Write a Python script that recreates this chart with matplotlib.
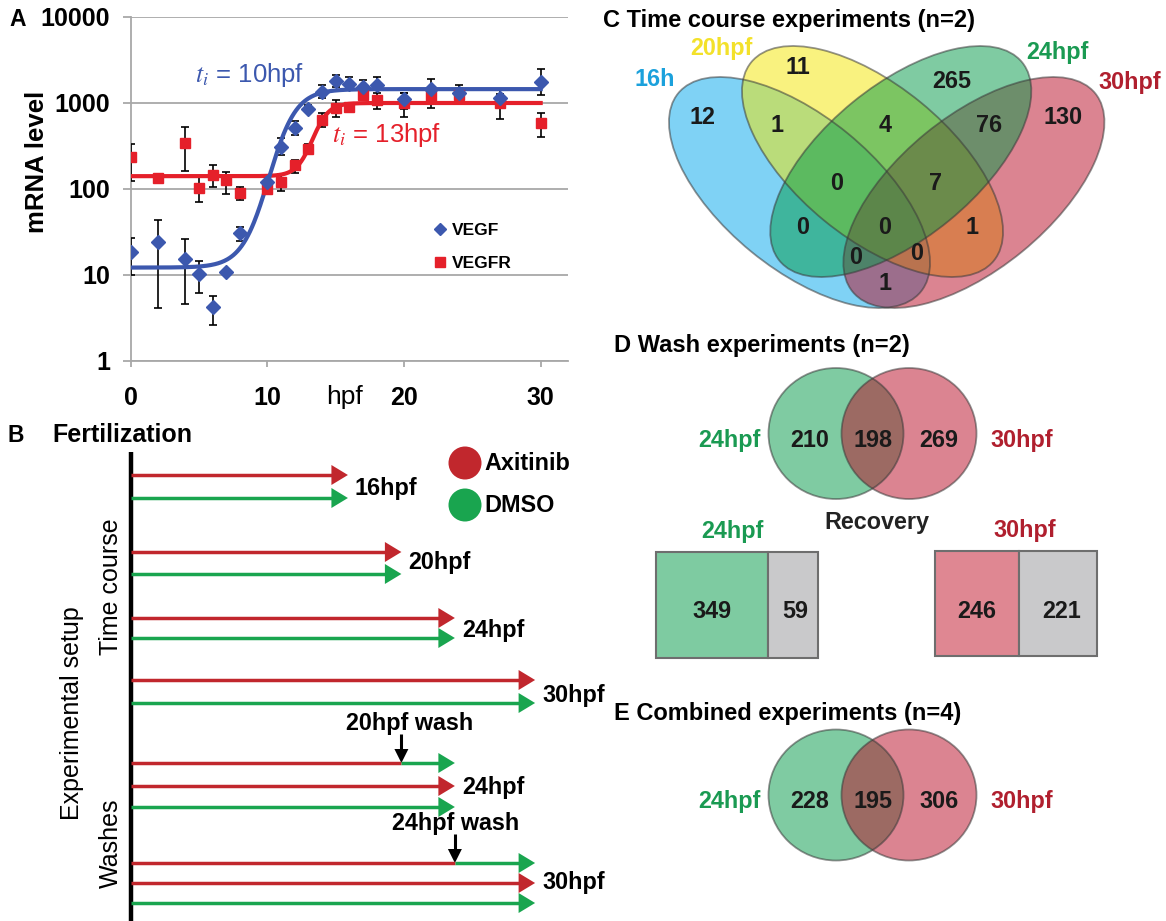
import matplotlib
matplotlib.use('Agg')
import matplotlib.pyplot as plt
import numpy as np
from matplotlib.patches import Ellipse, Rectangle, Circle, Polygon

plt.rcParams['font.family'] = ['Liberation Sans', 'DejaVu Sans']
plt.rcParams['mathtext.fontset'] = 'stix'

# ---------------- Panel A data ----------------
hpf = [0, 2, 4, 5, 6, 7, 8, 10, 11, 12, 13, 14, 15, 16, 17, 18, 20, 22, 24, 27, 30]
vegf = [18.7, 24, 15.3, 10.4, 4.2, 10.7, 30.5, 120, 310, 510, 850, 1350, 1800, 1650, 1550, 1600, 1100, 1450, 1300, 1150, 1750]
vegf_hi = [26.7, 44, 26, 14.5, 5.7, 11, 36.5, 140, 390, 620, 950, 1600, 2100, 2000, 1850, 2000, 1300, 1900, 1600, 1450, 2500]
vegf_lo = [10, 4.1, 4.6, 6.2, 2.6, 10.4, 25, 105, 250, 420, 780, 1150, 1550, 1400, 1300, 1300, 850, 1100, 1050, 900, 1250]
vegfr = [234, 135, 340, 103, 147, 126, 90, 100, 122, 188, 292, 633, 870, 890, 1230, 1090, 1000, 1210, 1230, 1000, 580]
vegfr_hi = [335, 150, 520, 138, 188, 158, 105, 108, 150, 215, 330, 760, 1070, 960, 1350, 1420, 1320, 1520, 1500, 1280, 770]
vegfr_lo = [125, 117, 161, 70, 105, 88, 75, 92, 95, 152, 255, 520, 680, 830, 1150, 850, 680, 870, 1000, 660, 400]
# logistic fits (in log space): low plateau, high plateau, inflection time, width
vegf_fit = dict(low=12.2, high=1450, ti=10.1, width=1.0)
vegfr_fit = dict(low=141, high=1000, ti=13.3, width=0.6)
x_ticks = [0, 10, 20, 30]
y_ticks = [1, 10, 100, 1000, 10000]
y_ticklabels = ['1', '10', '100', '1000', '10000']

# ---------------- Panel B data ----------------
timecourse_hpf = [16, 20, 24, 30]
wash_hpf = [20, 24]
wash_end_hpf = [24, 30]

# ---------------- Panel C-E data ----------------
venn_c_sets = ['16h', '20hpf', '24hpf', '30hpf']
venn_c_counts = [12, 11, 265, 130, 1, 4, 76, 0, 7, 0, 0, 1, 0, 0, 1]
wash_sets = ['24hpf', '30hpf']
wash_counts = [210, 198, 269]
recovery_24 = [349, 59]
recovery_30 = [246, 221]
combined_counts = [228, 195, 306]

BLUE = '#3c58ae'
RED = '#e5202a'
AR_RED = '#c1272d'
AR_GREEN = '#19a54f'
LBL_GREEN = '#1a9a52'
LBL_RED = '#b01f2e'

W, H = 1166, 921
fig = plt.figure(figsize=(W / 100, H / 100), dpi=100)

# ================= Panel A =================
ax_l, ax_r, ax_t, ax_b = 130.7, 568, 17, 361
axA = fig.add_axes([ax_l / W, 1 - ax_b / H, (ax_r - ax_l) / W, (ax_b - ax_t) / H])
axA.set_yscale('log')
axA.set_ylim(1, 10000)
axA.set_xlim(0, 32)
axA.yaxis.grid(True, color='#a8a8a8', lw=1.3)
axA.set_axisbelow(True)
for s in ['top', 'right']:
    axA.spines[s].set_visible(False)
for s in ['left', 'bottom']:
    axA.spines[s].set_color('#a8a8a8')
    axA.spines[s].set_linewidth(1.3)
axA.set_xticks(x_ticks)
axA.set_xticklabels([str(v) for v in x_ticks], fontsize=18, fontweight='bold')
axA.set_yticks(y_ticks)
axA.set_yticklabels(y_ticklabels, fontsize=18, fontweight='bold')
axA.yaxis.set_minor_locator(matplotlib.ticker.NullLocator())
axA.tick_params(axis='x', length=4.5, width=1.3, color='#a8a8a8', pad=13.5)
axA.tick_params(axis='y', length=5.8, width=1.3, color='#a8a8a8', pad=9)

xs = np.linspace(0, 30, 400)
def logistic(x, p):
    lo, hi = np.log10(p['low']), np.log10(p['high'])
    return 10 ** (lo + (hi - lo) / (1 + np.exp(-(x - p['ti']) / p['width'])))

hpf_a = np.array(hpf)
for vals, hi, lo in [(vegf, vegf_hi, vegf_lo), (vegfr, vegfr_hi, vegfr_lo)]:
    v = np.array(vals); h = np.array(hi); l = np.array(lo)
    axA.errorbar(hpf_a, v, yerr=[v - l, h - v], fmt='none', ecolor='black',
                 elinewidth=1.2, capsize=2.6, capthick=1.2, zorder=3)
axA.plot(xs, logistic(xs, vegfr_fit), color=RED, lw=3.0, zorder=4)
axA.plot(xs, logistic(xs, vegf_fit), color=BLUE, lw=3.0, zorder=4)
axA.plot(hpf_a, vegfr, 's', color=RED, ms=7, mec=RED, zorder=5)
axA.plot(hpf_a, vegf, 'D', color=BLUE, ms=7, mec=BLUE, zorder=6)

# overlay for annotations and other panels
axo = fig.add_axes([0, 0, 1, 1])
axo.set_xlim(0, W)
axo.set_ylim(H, 0)
axo.axis('off')

def T(x, y, s, size=16, color='black', weight='bold', ha='center', va='center', **kw):
    axo.text(x, y, s, fontsize=size, color=color, fontweight=weight, ha=ha, va=va, **kw)

T(18, 19, 'A', 16.5)
T(37, 162, 'mRNA level', 18.5, rotation=90)
T(344, 397, 'hpf', 19, weight='normal')
T(195, 75, r'$t_i$ = 10hpf', 18.5, color=BLUE, weight='normal', ha='left')
T(332, 135, r'$t_i$ = 13hpf', 18.5, color=RED, weight='normal', ha='left')
axo.plot([440], [229], 'D', color=BLUE, ms=6.5)
T(452, 230, 'VEGF', 12.5, ha='left')
axo.plot([440], [262], 's', color=RED, ms=6.5)
T(452, 263, 'VEGFR', 12.5, ha='left')

# ================= Panel B =================
T(16, 435, 'B', 16.5)
T(52, 435, 'Fertilization', 18, ha='left')
axo.plot([131, 131], [452, 921], color='black', lw=3.2, solid_capstyle='butt')

def hx(h):
    return 134 + 13.37 * h

HEAD_L, HEAD_W = 16.5, 10
def arrow(y, x0, x1, color, head=True):
    xe = x1 - HEAD_L if head else x1
    axo.plot([x0, xe + 1], [y, y], color=color, lw=2.5, solid_capstyle='butt')
    if head:
        axo.add_patch(Polygon([[x1 - HEAD_L, y - HEAD_W], [x1, y], [x1 - HEAD_L, y + HEAD_W]],
                              closed=True, color=color, lw=0))

tc_rows = [(475, 498), (552, 574), (618, 638), (680, 703)]
tc_label_y = [488, 562, 630, 695]
for h, (yr, yg), ly in zip(timecourse_hpf, tc_rows, tc_label_y):
    arrow(yr, 131, hx(h), AR_RED)
    arrow(yg, 131, hx(h), AR_GREEN)
    T(hx(h) + 7, ly, f'{h}hpf', 16.8, ha='left')

wash_rows = [(763, 786, 807), (863, 883, 903)]
wash_text = [(410, 723), (456, 823)]
wash_label_y = [787, 882]
for hw, he, (y1, y2, y3), (tx, ty), ly in zip(wash_hpf, wash_end_hpf, wash_rows, wash_text, wash_label_y):
    xw = hx(hw)
    axo.plot([131, xw], [y1, y1], color=AR_RED, lw=2.5, solid_capstyle='butt')
    arrow(y1, xw, hx(he), AR_GREEN)
    arrow(y2, 131, hx(he), AR_RED)
    arrow(y3, 131, hx(he), AR_GREEN)
    T(hx(he) + 7, ly, f'{he}hpf', 16.8, ha='left')
    T(tx, ty, f'{hw}hpf wash', 16.8)
    axo.plot([xw, xw], [y1 - 29, y1 - 12], color='black', lw=2.2, solid_capstyle='butt')
    axo.add_patch(Polygon([[xw - 7, y1 - 14], [xw, y1], [xw + 7, y1 - 14]], closed=True, color='black', lw=0))

axo.add_patch(Circle((465, 463), 16.5, color=AR_RED, lw=0))
axo.add_patch(Circle((465, 505), 16.5, color=AR_GREEN, lw=0))
T(484, 463, 'Axitinib', 16.8, ha='left')
T(484, 505, 'DMSO', 16.8, ha='left')
T(111, 587, 'Time course', 18, weight='normal', rotation=90)
T(111, 843, 'Washes', 18, weight='normal', rotation=90)
T(72, 713, 'Experimental setup', 18, weight='normal', rotation=90)

# ================= Panel C =================
T(603, 20, 'C Time course experiments (n=2)', 17, ha='left')
ell_a, ell_b, ell_ang = 2 * 156.7, 2 * 76.3, 39.3
c_geo = [  # center, angle, colour (drawing order blue, yellow, red, green)
    ((799.5, 192.5), ell_ang, '#00a6ed'),
    ((872.5, 161.5), ell_ang, '#f5e700'),
    ((973.9, 192.5), -ell_ang, '#b90b25'),
    ((900.8, 161.5), -ell_ang, '#009947'),
]
for (cx, cy), ang, col in c_geo:
    axo.add_patch(Ellipse((cx, cy), ell_a, ell_b, angle=ang, facecolor=col, alpha=0.5, lw=0))
for (cx, cy), ang, col in c_geo:
    axo.add_patch(Ellipse((cx, cy), ell_a, ell_b, angle=ang, facecolor='none',
                          edgecolor='#3a3a3a', alpha=0.55, lw=1.3))
c_lbl_pos = [(655, 80), (721, 48), (1057, 52), (1130, 82)]
c_lbl_col = ['#1ba1dc', '#f3e12a', LBL_GREEN, LBL_RED]
for s, (x, y), c in zip(venn_c_sets, c_lbl_pos, c_lbl_col):
    T(x, y, s, 16.8, color=c)
c_num_pos = [(702, 118), (798, 68), (952, 82), (1063, 118), (777, 125), (885, 125), (989, 125),
             (837, 183), (936, 183), (803, 227), (885, 227), (972, 227), (856, 257), (917, 253), (885, 283)]
for n, (x, y) in zip(venn_c_counts, c_num_pos):
    T(x, y, str(n), 16.8, color='#1a1a1a')

# ================= Panel D =================
T(614, 345, 'D Wash experiments (n=2)', 17, ha='left')

def venn2(cy, counts, ly):
    for cx, col in [(836, '#009947'), (909, '#b90b25')]:
        axo.add_patch(Ellipse((cx, cy), 135, 131, facecolor=col, alpha=0.5, lw=0))
    for cx in [836, 909]:
        axo.add_patch(Ellipse((cx, cy), 135, 131, facecolor='none', edgecolor='#3a3a3a', alpha=0.55, lw=1.3))
    T(729, ly, wash_sets[0], 16.8, color=LBL_GREEN)
    T(1022, ly, wash_sets[1], 16.8, color=LBL_RED)
    for n, x in zip(counts, [810, 873, 939]):
        T(x, ly, str(n), 16.8, color='#1a1a1a')

venn2(433.5, wash_counts, 440)
T(877, 522, 'Recovery', 16.8, color='#222222')
T(732, 531, '24hpf', 16.8, color=LBL_GREEN)
T(1025, 530, '30hpf', 16.8, color=LBL_RED)
# recovery boxes
for (x0, xm, x1, y0, y1), vals, col in [((656, 768, 818, 552, 658), recovery_24, '#7ecba1'),
                                        ((935, 1019, 1097, 551, 656), recovery_30, '#df8792')]:
    axo.add_patch(Rectangle((x0, y0), xm - x0, y1 - y0, facecolor=col, edgecolor='#6e6e6e', lw=1.5))
    axo.add_patch(Rectangle((xm, y0), x1 - xm, y1 - y0, facecolor='#c9c9cb', edgecolor='#6e6e6e', lw=1.5))
    T((x0 + xm) / 2, 611, str(vals[0]), 16.8, color='#1a1a1a')
    T(xm + (x1 - xm) * 0.55, 611, str(vals[1]), 16.8, color='#1a1a1a')

# ================= Panel E =================
T(614, 713, 'E Combined experiments (n=4)', 17, ha='left')
venn2(795, combined_counts, 801)

fig.savefig('out.png', dpi=100)
